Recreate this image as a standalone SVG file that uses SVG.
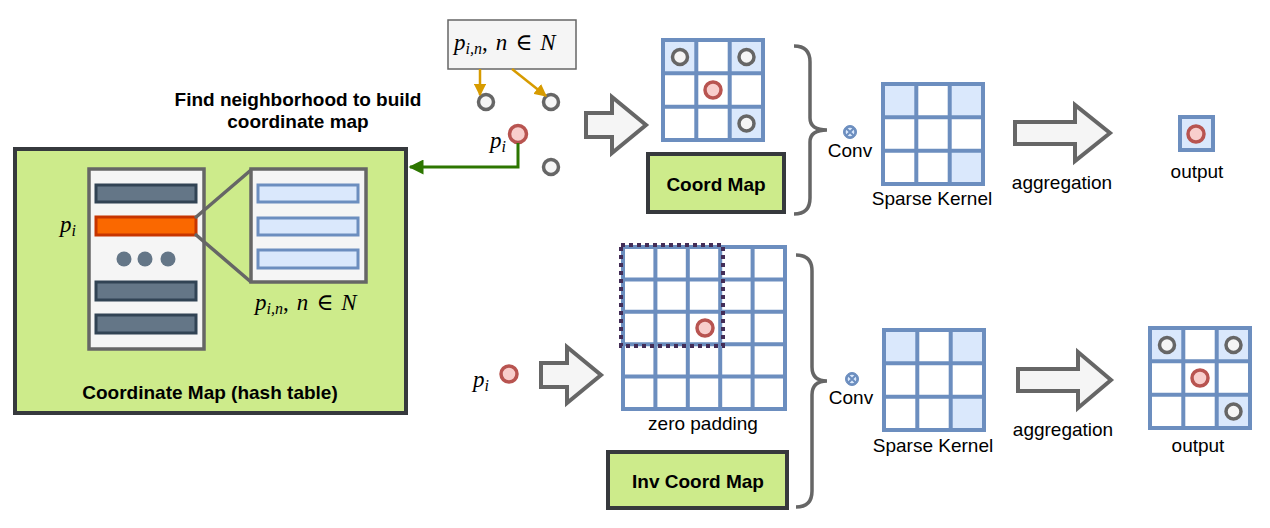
<svg xmlns="http://www.w3.org/2000/svg" xmlns:xlink="http://www.w3.org/1999/xlink" width="1270" height="528" viewBox="0 0 1270 528">
<style>
.lbl{font-family:"Liberation Sans",Arial,sans-serif;font-size:19px;fill:#000}
.b{font-weight:bold}
.math{font-family:"Liberation Serif","DejaVu Serif",serif;font-style:italic;font-size:23px;fill:#000}
.up{font-style:normal}
.gl{fill:none;stroke:#6c8ebf;stroke-width:4}
.green{fill:#cdeb8b;stroke:#36393d;stroke-width:4}
.gc{fill:#f5f5f5;stroke:#666;stroke-width:3.5}
.rc{fill:#f8cecc;stroke:#b85450;stroke-width:3.5}
.barD{fill:#647687;stroke:#314354;stroke-width:3}
.barL{fill:#dae8fc;stroke:#6c8ebf;stroke-width:3}
.blk{fill:#f5f5f5;stroke:#666;stroke-width:4;stroke-linejoin:miter}
.brace{fill:none;stroke:#666;stroke-width:3.5}
</style>
<defs>
<g id="grid3">
<rect x="0" y="0" width="100" height="100" fill="#fff"/>
<rect x="0" y="0" width="33.3" height="33.3" fill="#dae8fc"/>
<rect x="66.7" y="0" width="33.3" height="33.3" fill="#dae8fc"/>
<rect x="66.7" y="66.7" width="33.3" height="33.3" fill="#dae8fc"/>
<path class="gl" d="M0,0H100V100H0Z M33.3,0V100 M66.7,0V100 M0,33.3H100 M0,66.7H100"/>
</g>
<g id="pts3">
<circle class="gc" cx="17" cy="17" r="7.5"/>
<circle class="gc" cx="83.5" cy="17" r="7.5"/>
<circle class="gc" cx="83.5" cy="83.5" r="7.5"/>
<circle class="rc" cx="50" cy="50" r="8"/>
</g>
<g id="otimes">
<circle cx="0" cy="0" r="6.5" fill="#6c8ebf" stroke="#6c8ebf" stroke-width="1"/>
<circle cx="0" cy="0" r="4.3" fill="#dae8fc"/>
<path d="M-3.5,-3.5L3.5,3.5M-3.5,3.5L3.5,-3.5" stroke="#6c8ebf" stroke-width="2"/>
</g>
<marker id="ao" viewBox="0 0 10 10" refX="9" refY="5" markerWidth="5" markerHeight="5" orient="auto" markerUnits="strokeWidth">
<path d="M0,0L10,5L0,10Z" fill="#d79b00"/>
</marker>
<marker id="ag" viewBox="0 0 10 10" refX="9" refY="5" markerWidth="5.5" markerHeight="5" orient="auto" markerUnits="strokeWidth">
<path d="M0,0L10,5L0,10Z" fill="#2d7600"/>
</marker>
</defs>

<!-- Hash table node -->
<g id="hash-table">
<rect class="green" x="15" y="149" width="391" height="264"/>
<rect x="89" y="169" width="115" height="180" fill="#f5f5f5" stroke="#666" stroke-width="3.5"/>
<rect class="barD" x="96" y="185" width="100" height="17"/>
<rect x="96" y="217" width="100" height="18" fill="#fa6800" stroke="#c73500" stroke-width="3"/>
<circle cx="124" cy="259" r="7.5" fill="#647687"/>
<circle cx="145" cy="259" r="7.5" fill="#647687"/>
<circle cx="168" cy="259" r="7.5" fill="#647687"/>
<rect class="barD" x="96" y="282" width="100" height="18"/>
<rect class="barD" x="96" y="315" width="100" height="18"/>
<rect x="251" y="169" width="115" height="113" fill="#f5f5f5" stroke="#666" stroke-width="3.5"/>
<rect class="barL" x="258" y="185" width="100" height="17"/>
<rect class="barL" x="258" y="218" width="100" height="17"/>
<rect class="barL" x="258" y="250" width="100" height="18"/>
<path d="M195,218L251,170M195,234L251,282" fill="none" stroke="#666" stroke-width="3.5"/>
<text class="math" x="60" y="232" font-size="24">p<tspan font-size="16" dy="4">i</tspan></text>
<text class="math" x="255" y="310">p<tspan font-size="16" dy="4">i,n</tspan><tspan dy="-4" class="up">,</tspan><tspan dx="8">n</tspan><tspan dx="8" class="up">∈</tspan><tspan dx="8">N</tspan></text>
<text class="lbl b" x="210" y="399" text-anchor="middle">Coordinate Map (hash table)</text>
</g>

<g id="caption-find">
<text class="lbl b" x="298" y="106" text-anchor="middle">Find neighborhood to build</text>
<text class="lbl b" x="298" y="128" text-anchor="middle">coordinate map</text>
</g>

<!-- point set -->
<g id="neighbor-box">
<rect x="448" y="20" width="128" height="49" fill="#f5f5f5" stroke="#666" stroke-width="1.5"/>
<text class="math" x="454" y="50">p<tspan font-size="16" dy="4">i,n</tspan><tspan dy="-4" class="up">,</tspan><tspan dx="8">n</tspan><tspan dx="8" class="up">∈</tspan><tspan dx="8">N</tspan></text>
</g>
<g id="points">
<circle class="gc" cx="486" cy="102" r="7.5"/>
<circle class="gc" cx="551" cy="102" r="7.5"/>
<circle class="gc" cx="551" cy="167" r="7.5"/>
<circle class="rc" cx="518" cy="134" r="8.5"/>
<text class="math" x="490" y="148" font-size="24">p<tspan font-size="16" dy="4">i</tspan></text>
</g>

<!-- connectors -->
<g id="connectors">
<path d="M480,69V95" fill="none" stroke="#d79b00" stroke-width="2.5" marker-end="url(#ao)"/>
<path d="M512,69L546,96" fill="none" stroke="#d79b00" stroke-width="2.5" marker-end="url(#ao)"/>
<path d="M518,143V167H410" fill="none" stroke="#2d7600" stroke-width="3" marker-end="url(#ag)"/>
<path class="blk" d="M586,113H612V97L646,125L612,153V137H586Z"/>
<path class="blk" d="M1015,122H1075V105L1110,133L1075,161V144H1015Z"/>
<path class="blk" d="M541,363H567V347L601,375L567,403V387H541Z"/>
<path class="blk" d="M1018,369H1078V352L1111,380L1078,408V391H1018Z"/>
<path class="brace" d="M794,46Q810,46 810,62V118Q810,130 827,130Q810,130 810,142V198Q810,214 794,214"/>
<path class="brace" d="M796,255Q812,255 812,271V367Q812,381 827,381Q812,381 812,395V491Q812,507 796,507"/>
</g>

<!-- top row -->
<g id="coord-grid">
<use xlink:href="#grid3" x="663" y="40"/>
<use xlink:href="#pts3" x="663" y="40"/>
</g>
<g id="coord-map">
<rect class="green" x="648" y="154" width="136" height="58"/>
<text class="lbl b" x="716" y="191" text-anchor="middle">Coord Map</text>
</g>
<g id="conv-top">
<use xlink:href="#otimes" x="850" y="132"/>
<text class="lbl" x="850" y="157" text-anchor="middle">Conv</text>
</g>
<g id="kernel-top">
<use xlink:href="#grid3" x="883" y="84"/>
<text class="lbl" x="932" y="205" text-anchor="middle">Sparse Kernel</text>
</g>
<g id="agg-top">
<text class="lbl" x="1062" y="189" text-anchor="middle">aggregation</text>
</g>
<g id="output-top">
<rect x="1180" y="117" width="33" height="33" fill="#dae8fc" stroke="#6c8ebf" stroke-width="4"/>
<circle class="rc" cx="1196" cy="134" r="8"/>
<text class="lbl" x="1197" y="178" text-anchor="middle">output</text>
</g>

<!-- bottom row -->
<g id="pi-bottom">
<circle class="rc" cx="509" cy="374" r="8"/>
<text class="math" x="473" y="387" font-size="24">p<tspan font-size="16" dy="4">i</tspan></text>
</g>
<g id="padding-grid">
<rect x="623" y="247" width="162" height="162" fill="#fff"/>
<path class="gl" d="M623,247H785V409H623Z M655.4,247V409 M687.8,247V409 M720.2,247V409 M752.6,247V409 M623,279.4H785 M623,311.8H785 M623,344.2H785 M623,376.6H785"/>
<rect x="621" y="245" width="102" height="101" fill="none" stroke="#432d57" stroke-width="4" stroke-dasharray="4 4"/>
<circle class="rc" cx="705" cy="328" r="8"/>
<text class="lbl" x="703" y="430" text-anchor="middle">zero padding</text>
</g>
<g id="inv-coord-map">
<rect class="green" x="608" y="452" width="179" height="56" stroke-width="4"/>
<text class="lbl b" x="698" y="488" text-anchor="middle">Inv Coord Map</text>
</g>
<g id="conv-bottom">
<use xlink:href="#otimes" x="852" y="379"/>
<text class="lbl" x="851" y="404" text-anchor="middle">Conv</text>
</g>
<g id="kernel-bottom">
<use xlink:href="#grid3" x="884" y="330"/>
<text class="lbl" x="933" y="452" text-anchor="middle">Sparse Kernel</text>
</g>
<g id="agg-bottom">
<text class="lbl" x="1063" y="436" text-anchor="middle">aggregation</text>
</g>
<g id="output-bottom">
<use xlink:href="#grid3" x="1150" y="328"/>
<use xlink:href="#pts3" x="1150" y="328"/>
<text class="lbl" x="1198" y="452" text-anchor="middle">output</text>
</g>
</svg>
